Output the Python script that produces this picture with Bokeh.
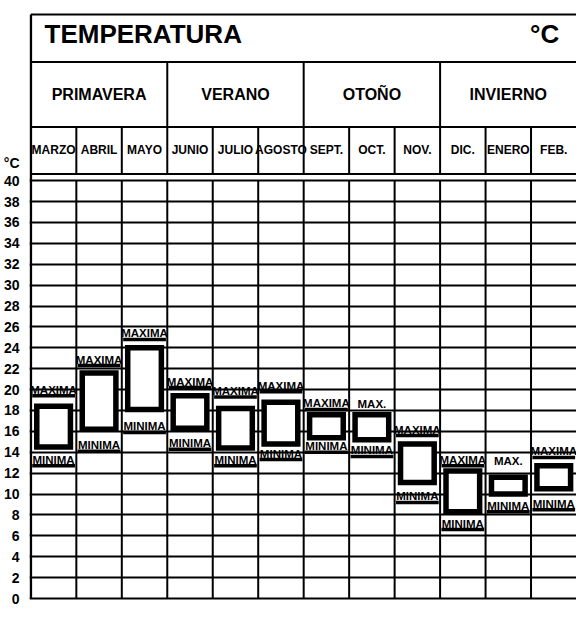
from bokeh.plotting import figure
from bokeh.models import Range1d, FixedTicker
from bokeh.core.properties import value
from bokeh.embed import file_html
from bokeh.resources import INLINE

# ---------------- data ----------------
months = ["MARZO", "ABRIL", "MAYO", "JUNIO", "JULIO", "AGOSTO",
          "SEPT.", "OCT.", "NOV.", "DIC.", "ENERO", "FEB."]
seasons = ["PRIMAVERA", "VERANO", "OTOÑO", "INVIERNO"]
max_abs = [19.4, 22.3, 24.8, 20.2, 19.3, 19.8, 18.1, 18.0, 15.6, 12.7, 12.6, 13.5]
box_top = [18.4, 21.6, 24.0, 19.4, 18.2, 18.8, 17.6, 17.6, 14.8, 12.2, 11.6, 12.7]
box_bottom = [14.5, 16.2, 18.1, 16.3, 14.4, 14.8, 15.4, 15.2, 11.1, 8.3, 10.0, 10.5]
min_abs = [12.7, 14.1, 15.9, 14.3, 12.7, 13.3, 14.0, 13.6, 9.2, 6.6, 8.3, 8.5]
max_labels = ["MAXIMA", "MAXIMA", "MAXIMA", "MAXIMA", "MAXIMA", "MAXIMA",
              "MAXIMA", "MAX.", "MAXIMA", "MAXIMA", "MAX.", "MAXIMA"]
min_labels = ["MINIMA"] * 12
y_ticks = list(range(0, 42, 2))
title = "TEMPERATURA"
unit = "°C"

# ---------------- layout constants ----------------
n = len(months)
Y_MONTH_BOT, Y_SEASON_BOT, Y_TITLE_BOT, Y_TOP = 40.65, 45.13, 51.37, 55.91
Y_TITLE_TEXT = 54.0
Y_UNIT_TICK = 41.65
BOLD = "bold"
SANS = value("Liberation Sans")
NARROW = value("Liberation Sans Narrow, Liberation Sans")

p = figure(width=576, height=608, x_range=Range1d(-0.03, 12.0),
           y_range=Range1d(-0.957, 57.25), output_backend="svg",
           toolbar_location=None, x_axis_type=None,
           min_border_left=29, min_border_right=0, min_border_top=0,
           min_border_bottom=0)
p.outline_line_color = None
p.background_fill_color = "white"
p.border_fill_color = "white"

# y axis (temperature ticks plus the unit above the top tick)
p.yaxis.ticker = FixedTicker(ticks=y_ticks + [Y_UNIT_TICK])
p.yaxis.major_label_overrides = {Y_UNIT_TICK: unit}
p.yaxis.axis_line_color = None
p.yaxis.major_tick_line_color = None
p.yaxis.minor_tick_line_color = None
p.yaxis.major_label_standoff = 4
p.yaxis.major_label_text_font = "Liberation Sans"
p.yaxis.major_label_text_font_style = "bold"
p.yaxis.major_label_text_font_size = "14px"
p.yaxis.major_label_text_color = "black"

# horizontal grid via axis ticks
p.xgrid.visible = False
p.ygrid.ticker = FixedTicker(ticks=y_ticks)
p.ygrid.grid_line_color = "black"
p.ygrid.grid_line_width = 2

# vertical grid lines
bounds = list(range(1, n))
p.segment(x0=bounds, y0=[0] * len(bounds), x1=bounds, y1=[40] * len(bounds),
          line_color="black", line_width=2)
# left border
p.segment(x0=[0], y0=[0], x1=[0], y1=[Y_TOP], line_color="black", line_width=2.5)

# header horizontal lines
hy = [Y_MONTH_BOT, Y_SEASON_BOT, Y_TITLE_BOT, Y_TOP]
p.segment(x0=[0] * 4, y0=hy, x1=[n] * 4, y1=hy, line_color="black", line_width=2)
# month dividers
p.segment(x0=bounds, y0=[Y_MONTH_BOT] * len(bounds), x1=bounds,
          y1=[Y_SEASON_BOT] * len(bounds), line_color="black", line_width=2)
# season dividers
sb = [3, 6, 9]
p.segment(x0=sb, y0=[Y_SEASON_BOT] * 3, x1=sb, y1=[Y_TITLE_BOT] * 3,
          line_color="black", line_width=2)

# header texts
xc = [i + 0.5 for i in range(n)]
p.text(x=xc, y=[(Y_MONTH_BOT + Y_SEASON_BOT) / 2] * n, text=months,
       text_align="center", text_baseline="middle", text_font=NARROW,
       text_font_style=BOLD, text_font_size="12px", text_color="black")
sx = [1.5 + 3 * i for i in range(len(seasons))]
p.text(x=sx, y=[(Y_SEASON_BOT + Y_TITLE_BOT) / 2] * len(seasons), text=seasons,
       text_align="center", text_baseline="middle", text_font=SANS,
       text_font_style=BOLD, text_font_size="16px", text_color="black")
p.text(x=[0.3], y=[Y_TITLE_TEXT], text=[title], text_align="left",
       text_baseline="middle", text_font=SANS, text_font_style=BOLD,
       text_font_size="26px", text_color="black")
p.text(x=[11.62], y=[Y_TITLE_TEXT], text=[unit], text_align="right",
       text_baseline="middle", text_font=SANS, text_font_style=BOLD,
       text_font_size="26px", text_color="black")

# max / min bands
x0 = [i + 0.03 for i in range(n)]
x1 = [i + 0.97 for i in range(n)]
max_alpha = [1.0 if lab == "MAXIMA" else 0.0 for lab in max_labels]
p.segment(x0=x0, y0=max_abs, x1=x1, y1=max_abs, line_color="black",
          line_width=3.5, line_alpha=max_alpha)
p.segment(x0=x0, y0=min_abs, x1=x1, y1=min_abs, line_color="black", line_width=3.5)
p.text(x=xc, y=max_abs, text=max_labels, text_align="center",
       text_baseline="bottom", text_font=NARROW, text_font_style=BOLD,
       text_font_size="11.5px", text_color="black")
p.text(x=xc, y=min_abs, text=min_labels, text_align="center",
       text_baseline="bottom", text_font=NARROW, text_font_style=BOLD,
       text_font_size="11.5px", text_color="black")

# boxes (mean range)
p.quad(left=[c - 0.37 for c in xc], right=[c + 0.37 for c in xc],
       top=box_top, bottom=box_bottom, fill_color="white",
       line_color="black", line_width=5.5, line_join="miter")

open("out.html", "w").write(file_html(p, INLINE))
